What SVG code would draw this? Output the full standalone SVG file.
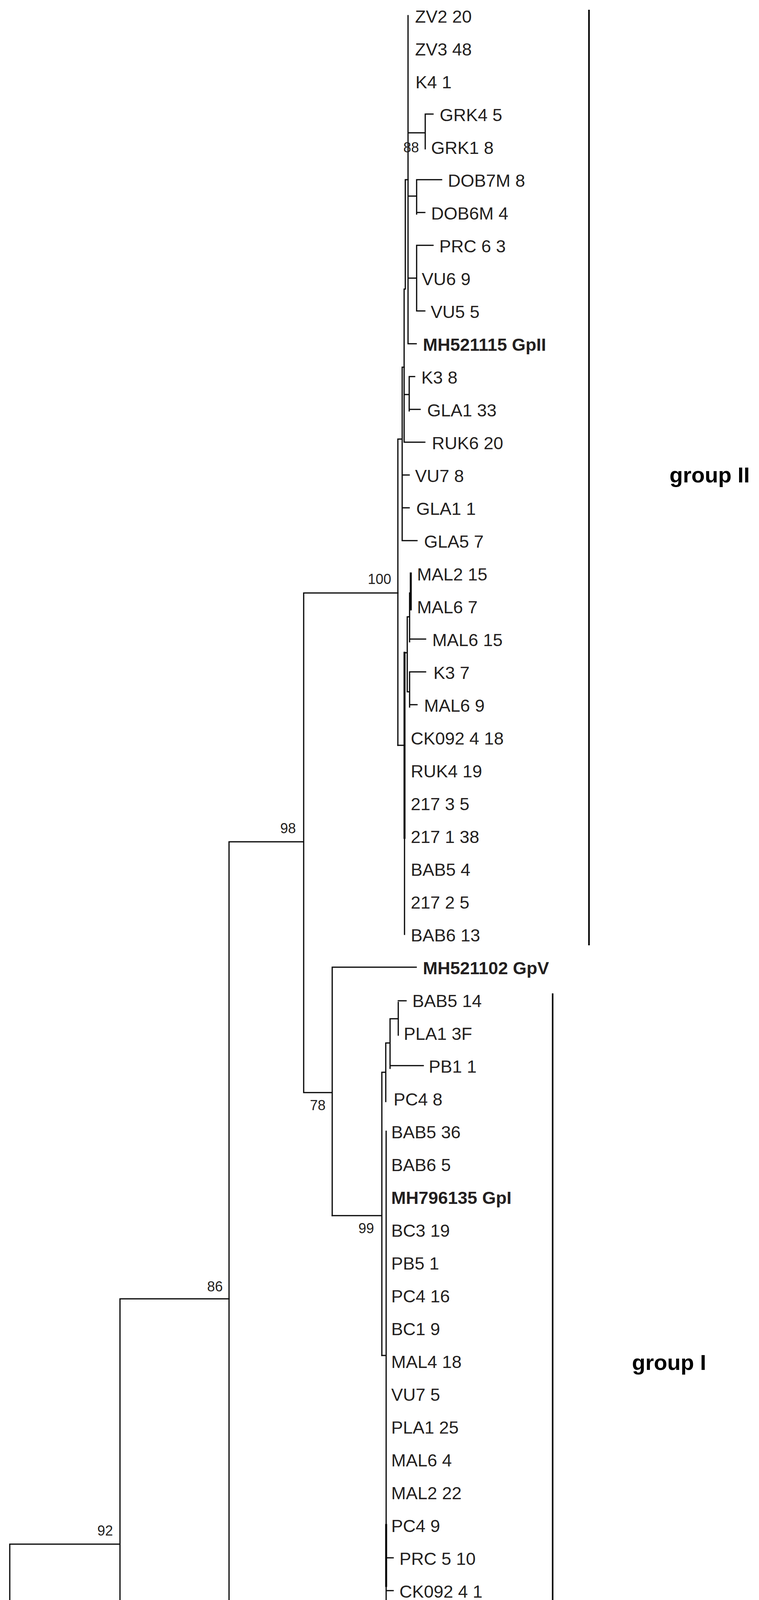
<svg xmlns="http://www.w3.org/2000/svg" width="1942" height="5024" viewBox="0 0 1942 5024">
<style>
.l{stroke:#000;stroke-width:3;fill:none;stroke-linecap:square}
.t{font-family:"Liberation Sans",Arial,sans-serif;font-size:45px;fill:#231f20}
.b{font-family:"Liberation Sans",Arial,sans-serif;font-size:45px;font-weight:bold;fill:#231f20}
.s{font-family:"Liberation Sans",Arial,sans-serif;font-size:36px;fill:#231f20}
.g{font-family:"Liberation Sans",Arial,sans-serif;font-size:56px;font-weight:bold;fill:#000}
</style>
<rect width="1942" height="5024" fill="#fff"/>
<g id="connectors">
<path class="l" d="M1044 40V880M1044 340H1088M1088 292V381M1088 292H1108M1044 502H1066M1066 460V548M1066 460H1130M1066 544H1087M1044 712H1066M1066 628V796M1066 628H1108M1066 796H1087M1044 880H1065"/>
<path class="l" d="M1037 460V740M1037 460H1044M1034 740V1132M1034 740H1037M1034 1010H1047M1047 964V1052M1047 964H1061M1047 1048H1075M1034 1132H1087"/>
<path class="l" d="M1029 940V1384M1029 940H1034M1029 1216H1047M1029 1300H1047M1029 1384H1067M1018 1124V1908M1018 1124H1029"/>
<path class="l" d="M1035 1671V2392M1018 1908H1035M1042 1579V1771M1035 1671H1042M1048 1518V1643M1042 1579H1048M1048 1636H1089M1051 1468V1560M1048 1518H1051M1048 1720V1810M1042 1771H1048M1048 1720H1089M1048 1804H1067"/>
<path class="l" style="stroke-width:5" d="M1035 1671V2145M1051 1468V1560"/>
<path class="l" d="M777 1518V2797M777 1518H1018M586 2155V4492M586 2155H777M850 2476V3112M777 2797H850M850 2476H1065"/>
<path class="l" d="M977 2745V3470M850 3112H977M987 2670V2820M977 2745H987M998 2608V2735M987 2670H998M998 2728H1083M1019 2566V2650M998 2608H1019M1019 2562H1039"/>
<path class="l" d="M988 2896V4408M977 3470H988M988 3988H1006M988 4072H1006M988 4156H1006M988 4240H1006M988 4324H1006M988 4408H1029"/>
<path class="l" style="stroke-width:5" d="M988 3904V4060"/>
<path class="l" d="M586 4492H1078M307 3325V4576M307 3325H586M307 4576H1441M25 3953V4723M25 3953H307M25 4723H35M35 4660V4786M35 4660H1444M35 4786H455M455 4744V4828M455 4744H1357M455 4828H1397"/>
<path class="l" style="stroke-width:4" d="M1507 27V2418M1414 2545V4433"/>
<path class="l" d="M198 4952H347M198 4946V4966M347 4946V4966"/>
</g>
<g id="leaves">
<text class="t" x="1062" y="58">ZV2  20</text>
<text class="t" x="1062" y="142">ZV3  48</text>
<text class="t" x="1063" y="226">K4  1</text>
<text class="t" x="1125" y="310">GRK4  5</text>
<text class="t" x="1103" y="394">GRK1 8</text>
<text class="t" x="1146" y="478">DOB7M 8</text>
<text class="t" x="1103" y="562">DOB6M  4</text>
<text class="t" x="1124" y="646">PRC  6  3</text>
<text class="t" x="1079" y="730">VU6  9</text>
<text class="t" x="1102" y="814">VU5 5</text>
<text class="b" x="1082" y="898">MH521115 GpII</text>
<text class="t" x="1078" y="982">K3 8</text>
<text class="t" x="1093" y="1066">GLA1  33</text>
<text class="t" x="1105" y="1150">RUK6 20</text>
<text class="t" x="1062" y="1234">VU7  8</text>
<text class="t" x="1065" y="1318">GLA1  1</text>
<text class="t" x="1085" y="1402">GLA5  7</text>
<text class="t" x="1067" y="1486">MAL2  15</text>
<text class="t" x="1067" y="1570">MAL6  7</text>
<text class="t" x="1106" y="1654">MAL6  15</text>
<text class="t" x="1109" y="1738">K3  7</text>
<text class="t" x="1085" y="1822">MAL6  9</text>
<text class="t" x="1051" y="1906">CK092  4  18</text>
<text class="t" x="1051" y="1990">RUK4  19</text>
<text class="t" x="1051" y="2074">217 3  5</text>
<text class="t" x="1051" y="2158">217  1  38</text>
<text class="t" x="1051" y="2242">BAB5  4</text>
<text class="t" x="1051" y="2326">217 2  5</text>
<text class="t" x="1051" y="2410">BAB6  13</text>
<text class="b" x="1082" y="2494">MH521102 GpV</text>
<text class="t" x="1055" y="2578">BAB5  14</text>
<text class="t" x="1033" y="2662">PLA1 3F</text>
<text class="t" x="1097" y="2746">PB1 1</text>
<text class="t" x="1007" y="2830">PC4  8</text>
<text class="t" x="1001" y="2914">BAB5 36</text>
<text class="t" x="1001" y="2998">BAB6 5</text>
<text class="b" x="1001" y="3082">MH796135 GpI</text>
<text class="t" x="1001" y="3166">BC3 19</text>
<text class="t" x="1001" y="3250">PB5 1</text>
<text class="t" x="1001" y="3334">PC4 16</text>
<text class="t" x="1001" y="3418">BC1 9</text>
<text class="t" x="1001" y="3502">MAL4 18</text>
<text class="t" x="1001" y="3586">VU7 5</text>
<text class="t" x="1001" y="3670">PLA1 25</text>
<text class="t" x="1001" y="3754">MAL6 4</text>
<text class="t" x="1001" y="3838">MAL2 22</text>
<text class="t" x="1001" y="3922">PC4 9</text>
<text class="t" x="1022" y="4006">PRC 5 10</text>
<text class="t" x="1022" y="4090">CK092 4 1</text>
<text class="t" x="1022" y="4174">MAL2 32</text>
<text class="t" x="1022" y="4258">PB1 20</text>
<text class="t" x="1022" y="4342">PB1 4</text>
<text class="t" x="1045" y="4426">CK093 2 13R</text>
<text class="b" x="1097" y="4510">MH521104 GpIII</text>
<text class="b" x="1462" y="4594">MH521091 GpIX</text>
<text class="b" x="1462" y="4678">KM058745 GpVII</text>
<text class="b" x="1372" y="4762">JQ655296 GpVI</text>
<text class="b" x="1416" y="4846">MH521094 GpX</text>
</g>
<g id="bootstrap">
<text class="s" x="1072" y="390" text-anchor="end">88</text>
<text class="s" x="1001" y="1495" text-anchor="end">100</text>
<text class="s" x="757" y="2133" text-anchor="end">98</text>
<text class="s" x="833" y="2842" text-anchor="end">78</text>
<text class="s" x="957" y="3157" text-anchor="end">99</text>
<text class="s" x="570" y="3306" text-anchor="end">86</text>
<text class="s" x="289" y="3931" text-anchor="end">92</text>
<text class="s" x="436" y="4834" text-anchor="end">98</text>
</g>
<g id="groups">
<text class="g" x="1713" y="1235">group II</text>
<text class="g" x="1617" y="3507">group I</text>
</g>
<text class="s" x="271" y="5000" text-anchor="middle">0.02</text>
</svg>
